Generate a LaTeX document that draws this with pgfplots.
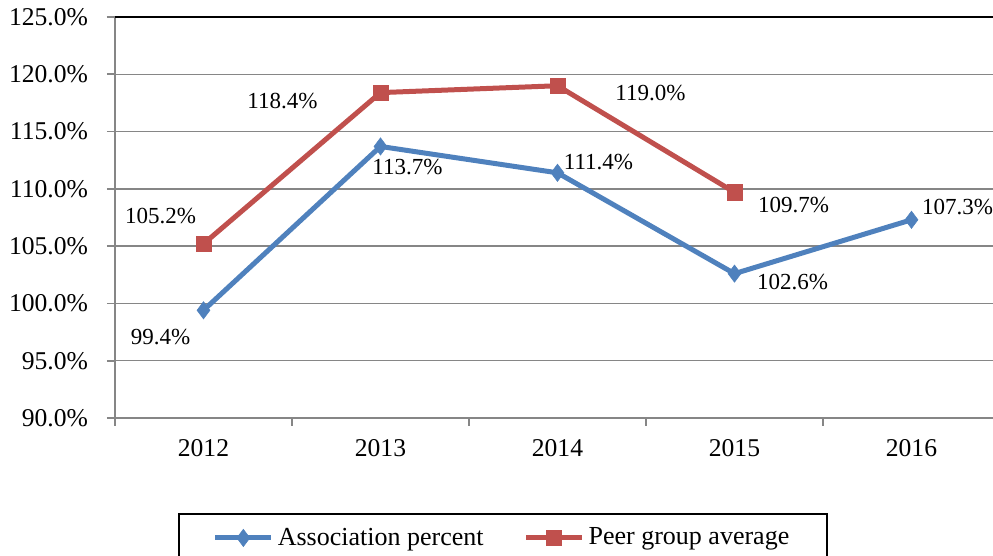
\documentclass[border=0pt]{standalone}
\usepackage{fontspec}
\setmainfont{Liberation Serif}
\usepackage{pgfplots}
\pgfplotsset{compat=1.18}
\definecolor{cblue}{HTML}{4F81BD}
\definecolor{cred}{HTML}{C0504D}
\definecolor{cgrid}{HTML}{868686}
\begin{document}
\begin{tikzpicture}
\begin{axis}[
  at={(0,0)}, anchor=south west,
  scale only axis, width=442.5pt, height=200.5pt,
  xmin=-0.5, xmax=4.5, ymin=90, ymax=125,
  clip=false,
  axis x line*=bottom, axis y line*=left,
  axis line style={cgrid, line width=1.1pt},
  xtick={-0.5,0.5,...,4.5},
  x tick label as interval,
  xticklabels={2012,2013,2014,2015,2016},
  ytick={90,95,...,125},
  extra y ticks={125}, extra y tick labels={},
  extra y tick style={grid=major, major grid style={black, line width=0.9pt}},
  ymajorgrids,
  major grid style={cgrid, line width=0.75pt},
  tick style={cgrid, line width=0.9pt},
  tick align=outside, major tick length=4pt,
  /pgf/number format/assume math mode=true,
  yticklabel={\pgfmathprintnumber[fixed,fixed zerofill,precision=1]{\tick}\%},
  tick label style={font=\fontsize{12.8}{15}\selectfont, text=black},
  yticklabel style={xshift=-6pt},
  xticklabel style={yshift=-3pt},
  legend style={at={(axis description cs:0.4385,-0.237)}, anchor=north,
    draw=black, line width=0.8pt, font=\fontsize{13}{15}\selectfont,
    legend columns=2, /tikz/every even column/.append style={column sep=18pt},
    inner xsep=17pt, inner ysep=5pt},
  legend image code/.code={\draw[mark repeat=2,mark phase=2,#1] plot coordinates {(0pt,0pt)(14pt,0pt)(28pt,0pt)};},
]
\addplot[cblue, line width=2.5pt, mark=diamond*, mark size=4.3pt, mark options={solid, line width=0.3pt}]
  coordinates {(0,99.4)(1,113.7)(2,111.4)(3,102.6)(4,107.3)};
\addlegendentry{Association percent}
\addplot[cred, line width=2.5pt, mark=square*, mark size=3.8pt, mark options={solid, line width=0.3pt}]
  coordinates {(0,105.2)(1,118.4)(2,119.0)(3,109.7)};
\addlegendentry{Peer group average}

\tikzset{lbl/.style={font=\fontsize{11.5}{14}\selectfont, text=black}}
\node[lbl, xshift=-21.5pt, yshift=-13.5pt] at (axis cs:0,99.4) {99.4\%};
\node[lbl, xshift=13.5pt, yshift=-10.5pt] at (axis cs:1,113.7) {113.7\%};
\node[lbl, xshift=20.5pt, yshift=5.5pt] at (axis cs:2,111.4) {111.4\%};
\node[lbl, xshift=29pt, yshift=-4pt] at (axis cs:3,102.6) {102.6\%};
\node[lbl, xshift=23pt, yshift=6.5pt] at (axis cs:4,107.3) {107.3\%};
\node[lbl, xshift=-21.5pt, yshift=14pt] at (axis cs:0,105.2) {105.2\%};
\node[lbl, xshift=-49pt, yshift=-4pt] at (axis cs:1,118.4) {118.4\%};
\node[lbl, xshift=46.5pt, yshift=-3.5pt] at (axis cs:2,119.0) {119.0\%};
\node[lbl, xshift=29.5pt, yshift=-6.5pt] at (axis cs:3,109.7) {109.7\%};
\end{axis}
\pgfresetboundingbox
\path[use as bounding box] (-57.5pt,-69pt) rectangle (439pt,209pt);
\end{tikzpicture}
\end{document}
